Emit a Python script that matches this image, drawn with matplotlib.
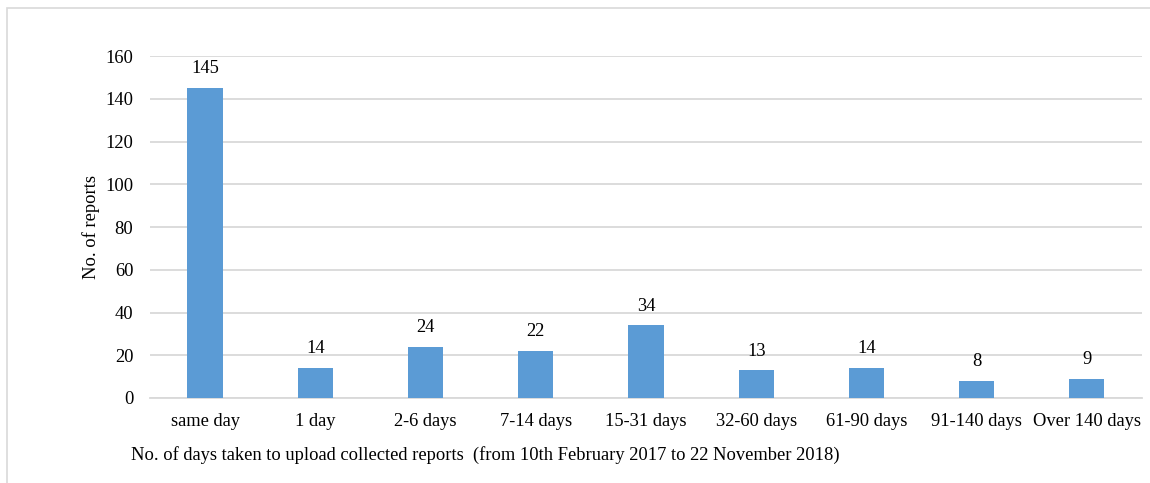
import matplotlib.pyplot as plt
from matplotlib.patches import Rectangle

categories = ["same day", "1 day", "2-6 days", "7-14 days", "15-31 days",
              "32-60 days", "61-90 days", "91-140 days", "Over 140 days"]
reports = [145, 14, 24, 22, 34, 13, 14, 8, 9]
yticks = [0, 20, 40, 60, 80, 100, 120, 140, 160]

plt.rcParams['font.family'] = ['Liberation Serif', 'DejaVu Serif']
fs = 13.3

fig = plt.figure(figsize=(11.5, 4.83), dpi=100)
ax = fig.add_axes([0.1304, 0.176, 0.8626, 0.708])

# chart border
fig.patches.append(Rectangle((7 / 1150, -0.1), 1.2, 1 - 8 / 483 + 0.1,
                             transform=fig.transFigure, fill=False,
                             edgecolor='#d9d9d9', linewidth=1.2))

x = range(len(categories))
bars = ax.bar(x, reports, width=0.32, color='#5b9bd5', zorder=3)
for b, v in zip(bars, reports):
    ax.text(b.get_x() + b.get_width() / 2, v + 5, str(v),
            ha='center', va='bottom', fontsize=fs)

ax.set_xlim(-0.5, len(categories) - 0.5)
ax.set_ylim(0, 160)
ax.set_yticks(yticks)
ax.set_xticks(list(x))
ax.set_xticklabels(categories)
ax.tick_params(axis='both', length=0, labelsize=fs)
ax.tick_params(axis='x', pad=11)
ax.tick_params(axis='y', pad=12)
ax.yaxis.grid(True, color='#d9d9d9', linewidth=1.3, zorder=0)
for s in ['top', 'right', 'left']:
    ax.spines[s].set_visible(False)
ax.spines['bottom'].set_color('#d9d9d9')
ax.spines['bottom'].set_linewidth(1.3)

ax.set_ylabel("No. of reports", fontsize=fs, labelpad=4)
fig.text(0.422, 0.057,
         "No. of days taken to upload collected reports  (from 10th February 2017 to 22 November 2018)",
         ha='center', va='center', fontsize=fs)

fig.savefig("out.png", dpi=100)
